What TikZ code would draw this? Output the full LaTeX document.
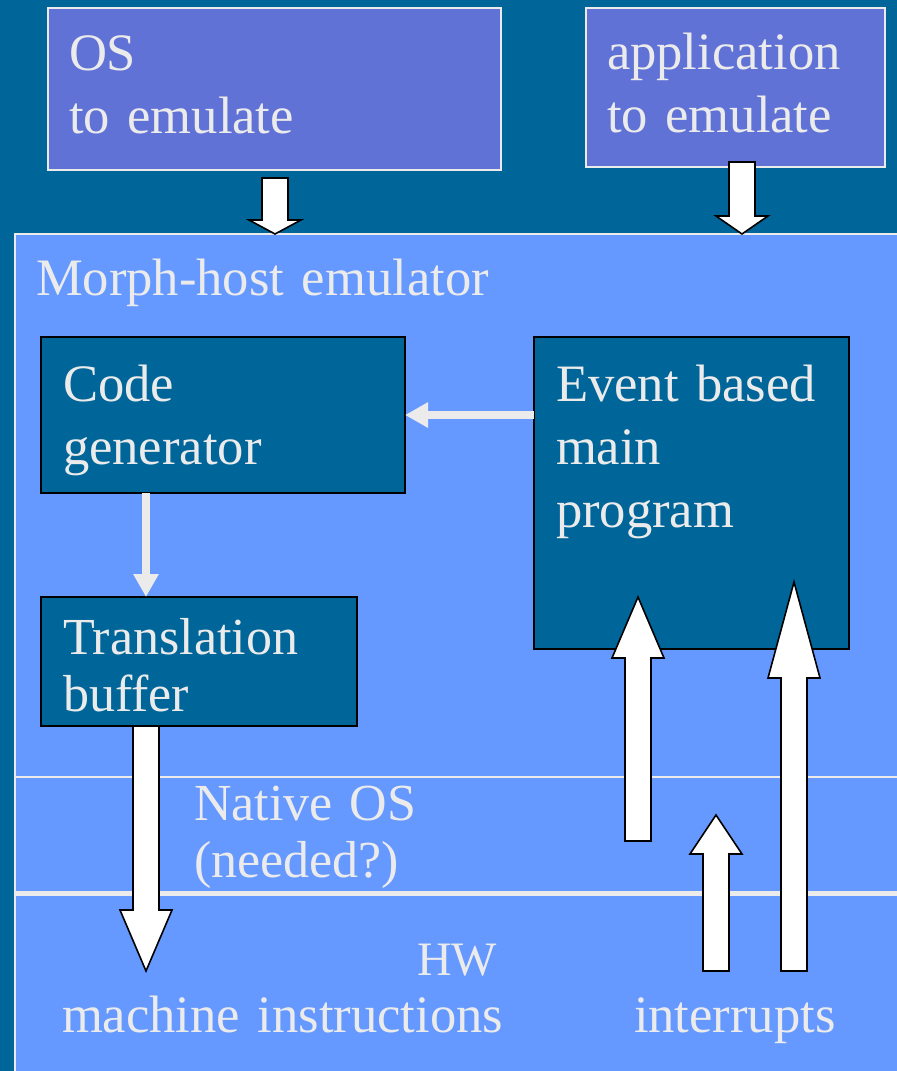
\documentclass[tikz,border=0pt]{standalone}
\usepackage{fontspec}
\setmainfont{Liberation Serif}
\usetikzlibrary{arrows.meta}
\definecolor{slidebg}{HTML}{006699}
\definecolor{topfill}{HTML}{6172D6}
\definecolor{hostfill}{HTML}{6699FF}
\definecolor{slidetext}{HTML}{EBEBEB}
% white block arrow: x, tail y, head base y, tip y
\newcommand\blockarrow[4]{%
  \draw[fatarrow] ({#1-13},#2) -- ({#1-13},#3) -- ({#1-26},#3) -- (#1,#4)
    -- ({#1+26},#3) -- ({#1+13},#3) -- ({#1+13},#2) -- cycle;}
\begin{document}
\begin{tikzpicture}[
    x=0.5pt, y=-0.5pt,
    every node/.style={inner sep=0pt, outer sep=0pt, anchor=north west},
    topbox/.style={draw=slidetext, line width=1pt, fill=topfill},
    hostbox/.style={draw=slidetext, line width=1pt, fill=hostfill},
    darkbox/.style={draw=black, line width=1pt, fill=slidebg},
    lbl/.style={anchor=base west, text=slidetext, text width=240pt, align=left,
        font=\fontsize{26.3}{31.5}\selectfont},
    lbltight/.style={lbl, font=\fontsize{26}{28.7}\selectfont},
    flow/.style={draw=slidetext, line width=3.8pt, -{Triangle[length=11.5pt,width=12pt]}},
    fatarrow/.style={draw=black, line width=0.8pt, fill=white, line join=miter},
    sepline/.style={draw=slidetext}
]
\fill[slidebg] (0,0) rectangle (897,1071);
\useasboundingbox (0,0) rectangle (897,1071);

% what is emulated
\node[topbox, minimum width=226.5pt, minimum height=81pt] (os) at (48,8) {};
\node[topbox, minimum width=149.5pt, minimum height=79.5pt] (app) at (586,8) {};
\node[lbl] (oslbl) at (69,70) {OS\\to emulate};
\node[lbl] (applbl) at (607,69) {application\\to emulate};

% emulator layers
\node[hostbox, minimum width=442pt, minimum height=419pt] (morph) at (15,234) {};
\draw[sepline, line width=1pt] (15,777) -- (897,777);
\draw[sepline, line width=2.5pt] (15,893.5) -- (897,893.5);
\node[lbl] (morphlbl) at (36,295) {Morph-host emulator};

\node[darkbox, minimum width=182pt, minimum height=78pt] (codegen) at (41,337) {};
\node[darkbox, minimum width=157.5pt, minimum height=156pt] (event) at (534,337) {};
\node[darkbox, minimum width=158pt, minimum height=64.5pt] (trans) at (41,597) {};
\node[lbl] (cglbl) at (63,401) {Code\\generator};
\node[lbl] (evlbl) at (556,401) {Event based\\main\\program};
\node[lbltight] (trlbl) at (63,654) {Translation\\buffer};

\node[lbltight] (natlbl) at (194,820) {Native OS\\(needed?)};
\node[lbl, font=\fontsize{24}{28}\selectfont] (hwlbl) at (417,975) {HW};
\node[lbl] (milbl) at (62,1032) {machine instructions};
\node[lbl] (irqlbl) at (634,1032) {interrupts};

% flow inside the emulator
\draw[flow] ([yshift=-39pt]event.north west) -- ([yshift=-39pt]codegen.north east);
\draw[flow] ([xshift=52.5pt]codegen.south west) -- ([xshift=52.5pt]trans.north west);

% block arrows
\blockarrow{275}{178}{220}{234}
\blockarrow{742}{162}{216}{234}
\blockarrow{146}{726}{910}{971}
\blockarrow{638}{841}{658}{597}
\blockarrow{716}{971}{854}{815}
\blockarrow{794}{971}{678}{582}
\end{tikzpicture}
\end{document}
